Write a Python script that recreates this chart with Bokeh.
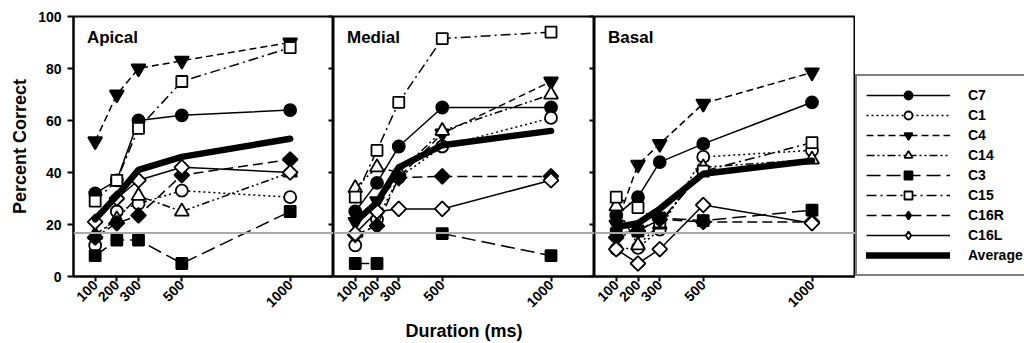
import math
import numpy as np
from bokeh.plotting import figure
from bokeh.layouts import row
from bokeh.models import (Range1d, FixedTicker, LinearAxis, Span, Legend, LegendItem,
                          Label, CustomJSTickFormatter)
from bokeh.embed import file_html
from bokeh.resources import INLINE

# ---------------- data ----------------
durations = [100, 200, 300, 500, 1000]
duration_ticks = [100, 200, 300, 500, 1000]
percent_ticks = [0, 20, 40, 60, 80, 100]
chance_level = 16.7
panel_titles = ["Apical", "Medial", "Basal"]
series_names = ["C7", "C1", "C4", "C14", "C3", "C15", "C16R", "C16L"]
x_label = "Duration (ms)"
y_label = "Percent Correct"

apical_c7 = [32, 37, 60, 62, 64]
apical_c1 = [12, 25, 28, 33, 30.5]
apical_c4 = [52, 70, 80, 83, 90]
apical_c14 = [16, 22, 31, 25, 40]
apical_c3 = [8, 14, 14, 5, 25]
apical_c15 = [29, 37, 57, 75, 88]
apical_c16r = [15, 20.5, 23.5, 39, 45]
apical_c16l = [21, 30, 37, 42, 40]
apical_avg = [22, 31, 41, 46, 53]

medial_c7 = [25, 36, 50, 65, 65]
medial_c1 = [12, 22, 38, 50, 61]
medial_c4 = [21, 29, 38, 55, 75]
medial_c14 = [34, 42, 40, 56, 70]
medial_c3 = [5, 5, np.nan, 16.5, 8]
medial_c15 = [30.5, 48.5, 67, 91.5, 94]
medial_c16r = [16, 19.5, 38, 38.5, 38.5]
medial_c16l = [16.5, 25, 26, 26, 37]
medial_avg = [21, 28.5, 42, 50.5, 56]

basal_c7 = [23.5, 30.5, 44, 51, 67]
basal_c1 = [10.5, 11, 18, 46, 48.5]
basal_c4 = [20, 43, 51, 66.5, 78.5]
basal_c14 = [27, 12, 20, 42, 45]
basal_c3 = [16.5, 17.5, 22.5, 21.5, 25.5]
basal_c15 = [30.5, 26.5, 21, 40.5, 51.5]
basal_c16r = [15, 17.5, 22, 21, 21]
basal_c16l = [10.5, 5, 10.5, 27.5, 20.5]
basal_avg = [19, 20.5, 26, 39.5, 44.5]

panels = [
    [apical_c7, apical_c1, apical_c4, apical_c14, apical_c3, apical_c15, apical_c16r, apical_c16l, apical_avg],
    [medial_c7, medial_c1, medial_c4, medial_c14, medial_c3, medial_c15, medial_c16r, medial_c16l, medial_avg],
    [basal_c7, basal_c1, basal_c4, basal_c14, basal_c3, basal_c15, basal_c16r, basal_c16l, basal_avg],
]

# ---------------- styles ----------------
FONT = "Liberation Sans"
styles = {
    "C7":   dict(dash="solid", marker="circle", fill="black", size=12, angle=0),
    "C1":   dict(dash="2 3", marker="circle", fill="white", size=12, angle=0),
    "C4":   dict(dash="7 4", marker="inverted_triangle", fill="black", size=14, angle=0),
    "C14":  dict(dash="8 3 2 3 2 3", marker="triangle", fill="white", size=14, angle=0),
    "C3":   dict(dash="14 6", marker="square", fill="black", size=11, angle=0),
    "C15":  dict(dash="10 4 2 4", marker="square", fill="white", size=11, angle=0),
    "C16R": dict(dash="10 5", marker="square", fill="black", size=10.5, angle=math.pi / 4),
    "C16L": dict(dash="solid", marker="square", fill="white", size=10.5, angle=math.pi / 4),
}

H = 343
TOP = 16
BOTTOM = 67


def draw_series(p, data, legend_proxy=False):
    rends = {}
    for name, ys in zip(series_names, data[:8]):
        st = styles[name]
        marker = st["marker"]
        if legend_proxy and st["angle"]:
            marker = "diamond"
        lr = p.line(durations, ys, line_color="black", line_width=1.5, line_dash=st["dash"])
        sr = p.scatter(durations, ys, marker=marker, size=st["size"], angle=st["angle"],
                       fill_color=st["fill"], line_color="black", line_width=1.8)
        rends[name] = [lr, sr]
    ar = p.line(durations, data[8], line_color="black", line_width=6.5, line_cap="round",
                line_join="round")
    rends["Average"] = [ar]
    return rends


def make_fig(idx, width, left, right):
    p = figure(width=width, height=H, x_range=Range1d(0, 1200), y_range=Range1d(0, 100),
               output_backend="svg", toolbar_location=None,
               min_border_left=left, min_border_right=right, min_border_top=TOP,
               min_border_bottom=BOTTOM,
               y_axis_location="left" if idx == 0 else None)
    p.grid.visible = False
    p.outline_line_color = "black"
    p.outline_line_width = 2
    p.background_fill_color = "white"
    p.border_fill_color = "white"

    xa = p.xaxis[0]
    xa.ticker = FixedTicker(ticks=duration_ticks)
    xa.major_label_orientation = math.pi / 4
    xa.major_label_text_font = FONT
    xa.major_label_text_font_style = "bold"
    xa.major_label_text_font_size = "14px"
    xa.major_label_text_color = "black"
    xa.major_tick_in = 0
    xa.major_tick_out = 5
    xa.minor_tick_out = 0
    xa.minor_tick_in = 0
    xa.major_tick_line_width = 2
    xa.axis_line_width = 2
    xa.major_label_standoff = 1
    xa.axis_label = x_label if idx == 1 else " "
    xa.axis_label_text_font = FONT
    xa.axis_label_text_font_style = "bold"
    xa.axis_label_text_font_size = "18px"
    xa.axis_label_text_color = "black"
    xa.axis_label_standoff = 6

    if idx == 0:
        ya = p.yaxis[0]
        ya.ticker = FixedTicker(ticks=percent_ticks)
        ya.major_label_text_font = FONT
        ya.major_label_text_font_style = "bold"
        ya.major_label_text_font_size = "14px"
        ya.major_label_text_color = "black"
        ya.major_tick_in = 0
        ya.major_tick_out = 6
        ya.minor_tick_out = 0
        ya.minor_tick_in = 0
        ya.major_tick_line_width = 2
        ya.axis_line_width = 2
        ya.major_label_standoff = 6
        ya.axis_label = y_label
        ya.axis_label_text_font = FONT
        ya.axis_label_text_font_style = "bold"
        ya.axis_label_text_font_size = "18px"
        ya.axis_label_text_color = "black"
        ya.axis_label_standoff = 5

    if idx < 2:
        ra = LinearAxis(ticker=FixedTicker(ticks=percent_ticks),
                        formatter=CustomJSTickFormatter(code="return ''"),
                        major_tick_in=5, major_tick_out=0, minor_tick_in=0, minor_tick_out=0,
                        major_label_standoff=0, axis_line_width=2, major_tick_line_width=2)
        p.add_layout(ra, "right")

    p.add_layout(Span(location=chance_level, dimension="width", line_color="#aaaaaa",
                      line_width=2))

    draw_series(p, panels[idx])

    p.add_layout(Label(x=62, y=92, text=panel_titles[idx], text_font=FONT,
                       text_font_style="bold", text_font_size="17px", text_color="black",
                       text_align="left", text_baseline="middle"))
    return p


p1 = make_fig(0, 333, 73, 0)
p2 = make_fig(1, 261, 0, 0)
p3 = make_fig(2, 261, 0, 0)

# legend panel: series proxies drawn outside its visible range
pl = figure(width=169, height=H, x_range=Range1d(5000, 6000), y_range=Range1d(0, 100),
            output_backend="svg", toolbar_location=None,
            min_border_left=0, min_border_right=0, min_border_top=TOP,
            min_border_bottom=BOTTOM, x_axis_location=None, y_axis_location=None)
pl.grid.visible = False
pl.outline_line_color = None
pl.background_fill_color = "white"
pl.border_fill_color = "white"
rends = draw_series(pl, panels[0], legend_proxy=True)

items = [LegendItem(label=n, renderers=rends[n]) for n in series_names]
items.append(LegendItem(label="Average", renderers=rends["Average"]))
legend = Legend(items=items, location=(0, 0), glyph_width=84, glyph_height=20,
                label_height=20, label_standoff=18, padding=9, spacing=0, margin=0,
                border_line_color="black", border_line_width=2,
                label_text_font=FONT, label_text_font_style="bold",
                label_text_font_size="14px", label_text_color="black",
                background_fill_color="white", background_fill_alpha=1)
pl.add_layout(legend, "center")

layout = row(p1, p2, p3, pl, spacing=0)
open("out.html", "w").write(file_html(layout, INLINE))
